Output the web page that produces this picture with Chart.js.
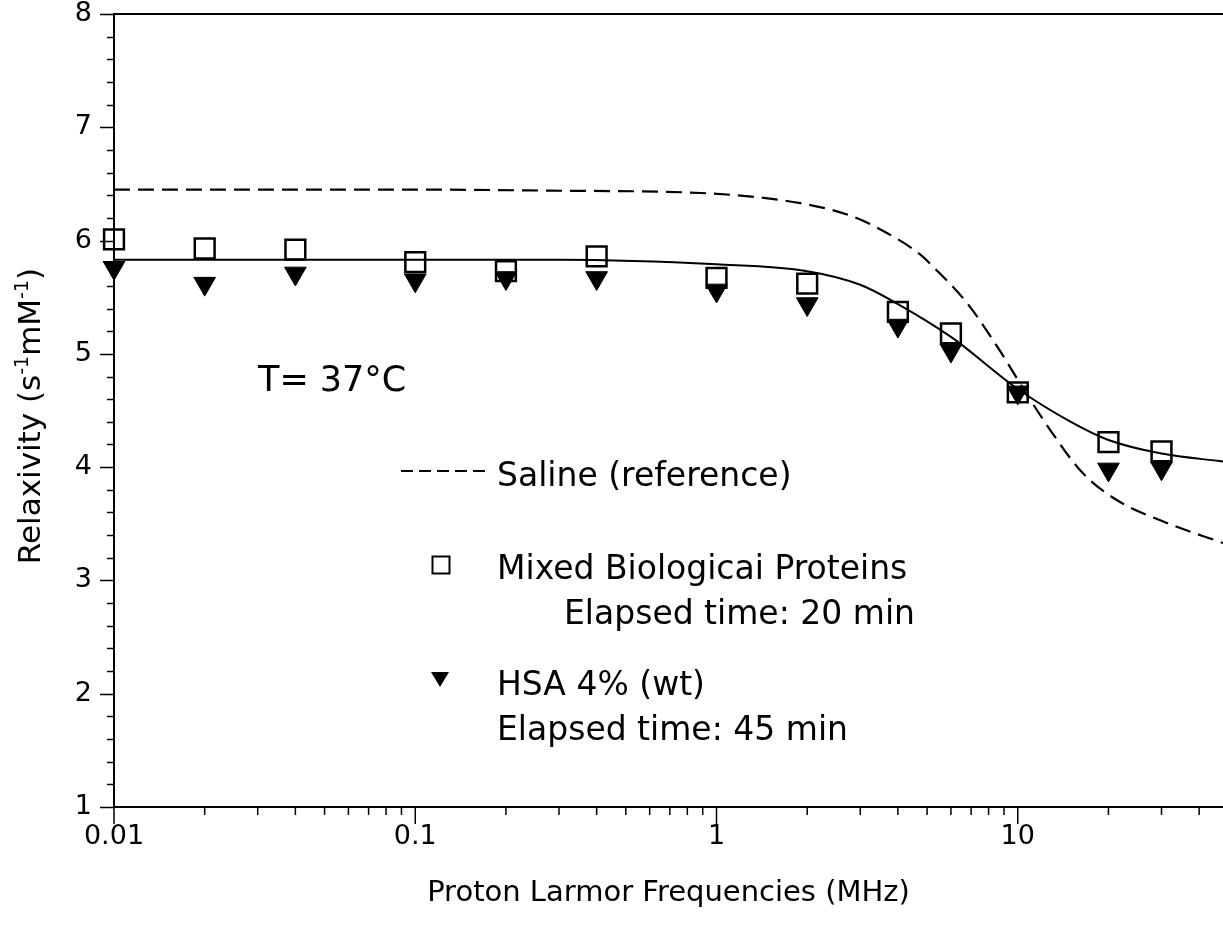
<!DOCTYPE html>
<html lang="en">
<head>
<meta charset="UTF-8">
<title>Relaxivity vs Proton Larmor Frequency</title>
<script src="https://cdn.jsdelivr.net/npm/chart.js"></script>
<style>
  html, body { margin: 0; padding: 0; background: #fff; }
  #wrap { width: 1223px; height: 931px; }
</style>
</head>
<body>
<div id="wrap"><canvas id="chart" width="1223" height="931"></canvas></div>
<script>
// measured points (MHz)
const freqMHz = [0.01, 0.02, 0.04, 0.1, 0.2, 0.4, 1, 2, 4, 6, 10, 20, 30];
const mixedProteins = [6.01, 5.93, 5.92, 5.81, 5.73, 5.86, 5.67, 5.62, 5.37, 5.18, 4.66, 4.22, 4.14];
const hsa4pct = [5.76, 5.62, 5.71, 5.65, 5.67, 5.67, 5.56, 5.44, 5.25, 5.03, 4.66, 3.98, 3.99];

// fitted curve through the protein data
const fitFreq = [0.01, 0.3, 1, 2, 3, 4, 6, 10, 15, 20, 30, 48];
const fitValues = [5.83, 5.83, 5.79, 5.73, 5.61, 5.44, 5.15, 4.69, 4.40, 4.24, 4.12, 4.05];

// saline reference curve
const salineFreq = [0.01, 0.1, 0.3, 0.885, 1.9, 2.78, 3.49, 4.73, 5.23, 6.78, 8.71, 10.5, 12.8, 16.4, 21.3, 31.1, 48];
const salineValues = [6.45, 6.45, 6.44, 6.42, 6.33, 6.22, 6.10, 5.88, 5.77, 5.45, 5.03, 4.68, 4.33, 3.95, 3.71, 3.51, 3.33];

const xTickValues = [0.01, 0.1, 1, 10];
const xTickLabels = ['0.01', '0.1', '1', '10'];
const yTickValues = [1, 2, 3, 4, 5, 6, 7, 8];
const yTickLabels = ['1', '2', '3', '4', '5', '6', '7', '8'];

const FONT = 'DejaVu Sans';
const pts = (xs, ys) => xs.map((x, i) => ({ x: x, y: ys[i] }));

// axes ticks, frame, title with superscripts, annotation and legend
const decor = {
    id: 'decor',
    afterDraw(chart) {
        const { ctx, chartArea: a, scales: { x, y } } = chart;
        ctx.save();
        ctx.strokeStyle = '#000';
        ctx.fillStyle = '#000';
        ctx.lineWidth = 2;

        // top frame line
        ctx.beginPath();
        ctx.moveTo(a.left, a.top);
        ctx.lineTo(a.right, a.top);
        ctx.stroke();

        // x tick marks (log decades + minor)
        ctx.lineWidth = 1.5;
        x.ticks.forEach(t => {
            const e = Math.floor(Math.log10(t.value) + 1e-9);
            const m = t.value / Math.pow(10, e);
            if (Math.abs(m - Math.round(m)) > 1e-6) return;
            const px = x.getPixelForValue(t.value);
            const len = Math.round(m) === 1 ? 17 : 8;
            ctx.beginPath();
            ctx.moveTo(px, a.bottom);
            ctx.lineTo(px, a.bottom + len);
            ctx.stroke();
        });

        // y tick marks every 0.2
        for (let i = 0; i <= 35; i++) {
            const v = y.min + i * 0.2;
            const py = Math.round(y.getPixelForValue(v)) + 0.5;
            const len = i % 5 === 0 ? 14 : 7;
            ctx.beginPath();
            ctx.moveTo(a.left, py);
            ctx.lineTo(a.left - len, py);
            ctx.stroke();
        }

        // y axis title
        const parts = [
            { t: 'Relaxivity (s', sup: false },
            { t: '-1', sup: true },
            { t: 'mM', sup: false },
            { t: '-1', sup: true },
            { t: ')', sup: false }
        ];
        const big = 'normal 31px "' + FONT + '"';
        const small = 'normal 19px "' + FONT + '"';
        let total = 0;
        parts.forEach(p => { ctx.font = p.sup ? small : big; p.w = ctx.measureText(p.t).width; total += p.w; });
        ctx.save();
        ctx.translate(40, 416);
        ctx.rotate(-Math.PI / 2);
        ctx.textBaseline = 'alphabetic';
        ctx.textAlign = 'left';
        let cx = -total / 2;
        parts.forEach(p => {
            ctx.font = p.sup ? small : big;
            ctx.fillText(p.t, cx, p.sup ? -12 : 0);
            cx += p.w;
        });
        ctx.restore();

        // temperature note
        ctx.font = 'normal 35px "' + FONT + '"';
        ctx.textAlign = 'left';
        ctx.textBaseline = 'alphabetic';
        ctx.fillText('T= 37\u00B0C', 258, 391);

        // legend
        ctx.font = 'normal 33px "' + FONT + '"';
        ctx.lineWidth = 2;
        ctx.setLineDash([12, 6]);
        ctx.beginPath();
        ctx.moveTo(401, 471);
        ctx.lineTo(486, 471);
        ctx.stroke();
        ctx.setLineDash([]);
        ctx.fillText('Saline (reference)', 497, 486);

        ctx.strokeRect(432.5, 556.5, 17, 17);
        ctx.fillText('Mixed Biologicai Proteins', 497, 579);
        ctx.fillText('Elapsed time: 20 min', 564, 624);

        ctx.beginPath();
        ctx.moveTo(431, 672);
        ctx.lineTo(449, 672);
        ctx.lineTo(440, 687);
        ctx.closePath();
        ctx.fill();
        ctx.fillText('HSA 4% (wt)', 497, 695);
        ctx.fillText('Elapsed time: 45 min', 497, 740);

        ctx.restore();
    }
};

new Chart(document.getElementById('chart'), {
    type: 'scatter',
    data: {
        datasets: [
            {
                label: 'HSA 4% (wt)',
                data: pts(freqMHz, hsa4pct),
                pointStyle: 'triangle',
                pointRotation: 180,
                pointRadius: 12.5,
                backgroundColor: '#000',
                borderColor: '#000',
                borderWidth: 1,
                clip: false,
                order: 0
            },
            {
                label: 'Mixed Biological Proteins',
                data: pts(freqMHz, mixedProteins),
                pointStyle: 'rect',
                pointRadius: 14,
                backgroundColor: 'rgba(0,0,0,0)',
                borderColor: '#000',
                borderWidth: 2.5,
                clip: false,
                order: 1
            },
            {
                label: 'Fit',
                data: pts(fitFreq, fitValues),
                showLine: true,
                pointRadius: 0,
                borderColor: '#000',
                borderWidth: 2,
                cubicInterpolationMode: 'monotone',
                order: 2
            },
            {
                label: 'Saline (reference)',
                data: pts(salineFreq, salineValues),
                showLine: true,
                pointRadius: 0,
                borderColor: '#000',
                borderWidth: 2.2,
                borderDash: [16, 8],
                cubicInterpolationMode: 'monotone',
                order: 3
            }
        ]
    },
    options: {
        responsive: false,
        animation: false,
        events: [],
        layout: { autoPadding: false, padding: { top: 14, right: 0, bottom: 0, left: 0 } },
        plugins: { legend: { display: false }, tooltip: { enabled: false } },
        scales: {
            x: {
                type: 'logarithmic',
                min: 0.01,
                max: 48,
                border: { display: true, color: '#000', width: 2 },
                grid: { drawOnChartArea: false, drawTicks: true, tickLength: 14, color: 'rgba(0,0,0,0)' },
                ticks: {
                    autoSkip: false,
                    maxRotation: 0,
                    padding: 0,
                    color: '#000',
                    font: { family: FONT, size: 27 },
                    callback: (v) => {
                        const i = xTickValues.findIndex(t => Math.abs(t - v) < t * 1e-6);
                        return i < 0 ? '' : xTickLabels[i];
                    }
                },
                title: {
                    display: true,
                    text: 'Proton Larmor Frequencies (MHz)',
                    color: '#000',
                    font: { family: FONT, size: 29 },
                    padding: { top: 0, bottom: 20 }
                },
                afterFit: (s) => { s.height = 124; s.paddingLeft = 0; s.paddingRight = 0; }
            },
            y: {
                min: 1,
                max: 8,
                border: { display: true, color: '#000', width: 2 },
                grid: { drawOnChartArea: false, drawTicks: true, tickLength: 16, color: 'rgba(0,0,0,0)' },
                ticks: {
                    stepSize: 1,
                    padding: 6,
                    color: '#000',
                    font: { family: FONT, size: 27 },
                    callback: (v) => {
                        const i = yTickValues.indexOf(v);
                        return i < 0 ? '' : yTickLabels[i];
                    }
                },
                afterFit: (s) => { s.width = 114; s.paddingTop = 0; s.paddingBottom = 0; }
            }
        }
    },
    plugins: [decor]
});
</script>
</body>
</html>
